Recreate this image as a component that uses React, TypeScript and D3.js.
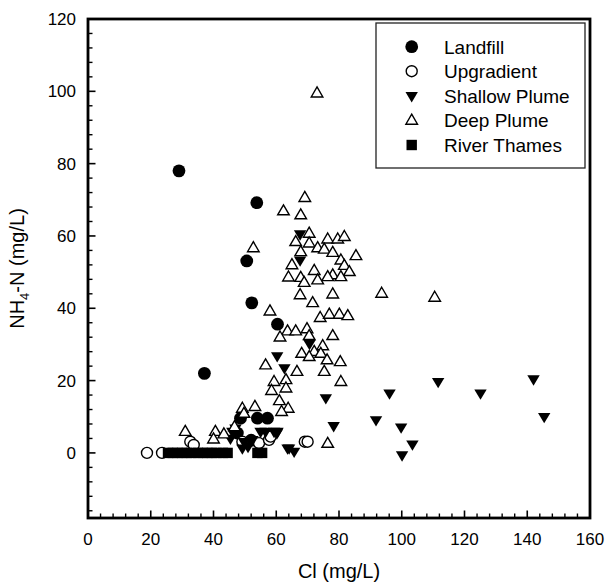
import React from "react";
import * as d3 from "d3";

const xTicks = [0, 20, 40, 60, 80, 100, 120, 140, 160];
const yTicks = [0, 20, 40, 60, 80, 100, 120];

const landfill: [number, number][] = [
  [29, 78], [53.8, 69.2], [50.6, 53.1], [52.2, 41.5], [60.4, 35.6], [37.1, 22.0],
  [48.6, 9.6], [54, 9.6], [57.2, 9.6], [47.6, 5.5], [52, 3.5],
];

const upgradient: [number, number][] = [
  [18.8, 0], [23.6, 0], [32.6, 3.1], [33.7, 2.2], [49.2, 3.1], [54.5, 2.7],
  [57.7, 3.6], [58.2, 4.5], [69.1, 3.1], [70, 3.1],
];

const shallow: [number, number][] = [
  [96.1, 16.5], [111.6, 19.7], [125.1, 16.5], [142, 20.4], [145.4, 10.0], [91.8, 9.1],
  [99.8, 7.1], [103.4, 2.4], [100.1, -0.6], [75.8, 15.2], [78.3, 7.5], [70.6, 30.2],
  [60.3, 26.8], [62.6, 23.5], [64.1, 1.3], [65.7, 0.4], [56.6, 5.9], [59.3, 5.9],
  [60.2, 5.5], [67.6, 60.5], [67.6, 53.3], [49.7, 3.1], [46, 5.9], [49.2, 1.3],
  [52.4, 3.6], [55, 5.9], [60.4, 5.9], [63.6, 1.3], [45.4, 4], [47, 6.8], [51, 1.7],
];

const deep: [number, number][] = [
  [73, 99.5], [110.5, 43], [93.6, 44.1],
  [69.1, 70.6], [62.3, 66.9], [67.8, 65.8], [70.5, 60.7], [66.2, 58.4], [70.5, 58.0],
  [73.2, 56.7], [76.4, 59.1], [79.6, 59.1], [81.7, 59.8], [75.3, 56.3], [78, 55.4],
  [85.4, 54.5], [52.7, 56.7], [67.8, 55.6], [65, 52], [72.1, 50.4], [80.6, 53.3],
  [81.7, 51.8], [83.3, 50.1], [78, 49.2], [76.4, 48.7], [63.9, 48.6], [67.8, 48.5],
  [68.9, 47.1], [73.2, 47.8], [80.6, 48.7], [67.6, 43.7], [78, 43.9], [71.6, 41.5],
  [58, 39.2], [74, 37.4], [76.9, 38.3], [80.1, 38.3], [82.8, 37.9], [63.6, 33.7],
  [66.2, 33.7], [69.8, 34.3], [70.5, 32.4], [61.2, 32], [78, 32.4], [74.8, 29.6],
  [68.1, 27.5], [72.1, 28], [74.2, 27.5], [76.2, 25.7], [80.4, 25.2], [70.5, 26.6],
  [56.6, 24.3], [66.6, 22.5], [75.3, 22.5], [80.6, 19.7], [59.3, 19.7], [63.1, 20.2],
  [58.5, 17.2], [63.1, 17.9], [61, 14.4], [63.8, 12.3], [61.7, 11.4], [53.2, 12.8],
  [49.2, 12.3], [49.7, 10.9], [46.7, 7.2], [76.4, 2.6], [31, 5.9], [40.6, 5.9],
  [43.3, 5.2], [40, 3.8],
];

const thames: [number, number][] = [
  [25.5, 0], [27, 0], [28.5, 0], [30, 0], [31.5, 0], [33, 0], [35, 0], [36.5, 0],
  [38, 0], [39.5, 0], [41, 0], [43, 0], [44.5, 0], [54, 0], [55.5, 0],
];

const legendLabels = ["Landfill", "Upgradient", "Shallow Plume", "Deep Plume", "River Thames"];

const X0 = 88, X1 = 590, Y0 = 518, Y1 = 19;
const FONT = "'Liberation Sans', Arial, Helvetica, sans-serif";

type Kind = "fcircle" | "ocircle" | "dtri" | "utri" | "square";

function Marker({ kind, x, y }: { kind: Kind; x: number; y: number }) {
  const t = `translate(${x},${y})`;
  switch (kind) {
    case "fcircle":
      return <circle cx={x} cy={y} r={6.4} fill="#000" />;
    case "ocircle":
      return <circle cx={x} cy={y} r={5.5} fill="#fff" stroke="#000" strokeWidth={1.4} />;
    case "dtri":
      return <path transform={t} d="M0,6.6L6.2,-3.8L-6.2,-3.8Z" fill="#000" />;
    case "utri":
      return <path transform={t} d="M0,-6.2L5.8,3.8L-5.8,3.8Z" fill="#fff" stroke="#000" strokeWidth={1.4} strokeLinejoin="miter" />;
    case "square":
      return <rect x={x - 5.2} y={y - 5.2} width={10.4} height={10.4} fill="#000" />;
  }
}

export default function App() {
  const x = d3.scaleLinear().domain([0, 160]).range([X0, X1]);
  const y = d3.scaleLinear().domain([-18, 120]).range([Y0, Y1]);
  const xMinor = d3.range(0, 161, 4).filter((v) => v % 20 !== 0);
  const yMinor = d3.range(-16, 121, 4).filter((v) => v % 20 !== 0);

  const series: { data: [number, number][]; kind: Kind }[] = [
    { data: landfill, kind: "fcircle" },
    { data: upgradient, kind: "ocircle" },
    { data: shallow, kind: "dtri" },
    { data: deep, kind: "utri" },
    { data: thames, kind: "square" },
  ];

  const legendY = [46.7, 71.2, 95.8, 120.4, 145];

  return (
    <svg width={609} height={586} style={{ position: "absolute", left: 0, top: 0, background: "#fff" }} fontFamily={FONT}>
      <rect width={609} height={586} fill="#fff" />
      {series.map((s, i) => (
        <g key={i}>
          {s.data.map((d, j) => (
            <Marker key={j} kind={s.kind} x={x(d[0])} y={y(d[1])} />
          ))}
        </g>
      ))}
      {xTicks.map((v) => (
        <g key={"xt" + v}>
          <line x1={x(v)} x2={x(v)} y1={Y0} y2={Y0 - 7.5} stroke="#000" strokeWidth={1.6} />
          <text x={x(v)} y={545} fontSize={17} textAnchor="middle">{v}</text>
        </g>
      ))}
      {xMinor.map((v) => (
        <line key={"xm" + v} x1={x(v)} x2={x(v)} y1={Y0} y2={Y0 - 4.5} stroke="#000" strokeWidth={1.4} />
      ))}
      {yTicks.map((v) => (
        <g key={"yt" + v}>
          <line x1={X0} x2={X0 + 7.5} y1={y(v)} y2={y(v)} stroke="#000" strokeWidth={1.6} />
          <text x={76} y={y(v) + 6} fontSize={17} textAnchor="end">{v}</text>
        </g>
      ))}
      {yMinor.map((v) => (
        <line key={"ym" + v} x1={X0} x2={X0 + 4.5} y1={y(v)} y2={y(v)} stroke="#000" strokeWidth={1.4} />
      ))}
      <rect x={X0} y={Y1} width={X1 - X0} height={Y0 - Y1} fill="none" stroke="#000" strokeWidth={2.8} />
      <rect x={376} y={23} width={209} height={145} fill="#fff" stroke="#222" strokeWidth={1.3} />
      {legendLabels.map((lab, i) => (
        <g key={lab}>
          <Marker kind={series[i].kind} x={411.7} y={legendY[i]} />
          <text x={444} y={legendY[i] + 6.8} fontSize={19}>{lab}</text>
        </g>
      ))}
      <text x={(X0 + X1) / 2} y={578} fontSize={20} textAnchor="middle">Cl (mg/L)</text>
      <text transform={`translate(24,${(Y0 + Y1) / 2}) rotate(-90)`} fontSize={20} textAnchor="middle">
        NH<tspan fontSize={13} dy={5}>4</tspan><tspan dy={-5}>-N (mg/L)</tspan>
      </text>
    </svg>
  );
}
